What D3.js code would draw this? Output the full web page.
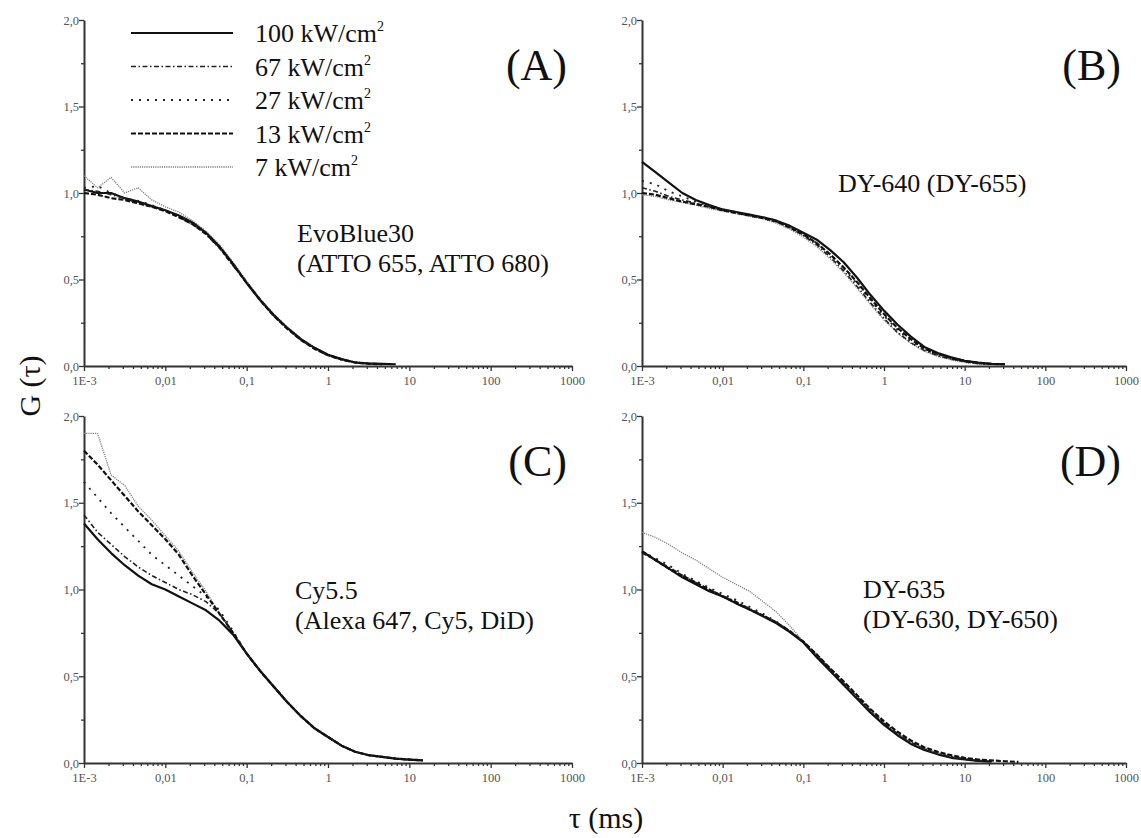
<!DOCTYPE html>
<html>
<head>
<meta charset="utf-8">
<script src="https://cdn.jsdelivr.net/npm/d3@7"></script>
<style>
  body { margin: 0; background: #fff; }
  svg { display: block; }
  svg text { font-family: "Liberation Serif", "DejaVu Serif", serif; }
  .axis path.domain { stroke: #333; stroke-width: 2; }
  .axis line { stroke: #333; stroke-width: 1.3; }
  .axis text { fill: #555; font-size: 12.5px; }
</style>
</head>
<body>
<div id="chart"></div>
<script>
// lag times (ms), shared by every curve
var tauMs = [0.001, 0.001468, 0.002154, 0.003162, 0.004642, 0.006813, 0.01, 0.01468, 0.02154, 0.03162,
  0.04642, 0.06813, 0.1, 0.1468, 0.2154, 0.3162, 0.4642, 0.6813, 1, 1.468, 2.154, 3.162, 4.642, 6.813,
  10, 14.68, 21.54, 31.62, 46.42];

var powerLabels = ["100 kW/cm", "67 kW/cm", "27 kW/cm", "13 kW/cm", "7 kW/cm"];

// (A) EvoBlue30
var A100 = [1.02, 1.00, 1.00, 0.97, 0.95, 0.925, 0.90, 0.87, 0.83, 0.77, 0.69, 0.59, 0.48, 0.38, 0.295, 0.22, 0.155, 0.105, 0.065, 0.04, 0.02, 0.015, 0.012, 0.01];
var A67  = [1.02, 1.01, 0.99, 0.97, 0.94, 0.92, 0.90, 0.86, 0.82, 0.76, 0.68, 0.58, 0.48, 0.38, 0.29, 0.215, 0.15, 0.10, 0.06, 0.035, 0.02, 0.012, 0.01];
var A27  = [1.03, 1.04, 1.00, 0.97, 0.955, 0.93, 0.90, 0.87, 0.83, 0.77, 0.69, 0.59, 0.485, 0.385, 0.295, 0.22, 0.155, 0.105, 0.065, 0.04, 0.022, 0.014, 0.01];
var A13  = [1.00, 0.99, 0.97, 0.96, 0.94, 0.92, 0.895, 0.86, 0.82, 0.765, 0.685, 0.585, 0.48, 0.38, 0.29, 0.215, 0.15, 0.10, 0.062, 0.038, 0.02, 0.013, 0.01];
var A7   = [1.10, 1.03, 1.09, 1.00, 1.03, 0.96, 0.92, 0.89, 0.84, 0.78, 0.70, 0.60, 0.49, 0.39, 0.30, 0.225, 0.16, 0.11, 0.068, 0.042, 0.022, 0.015, 0.01];

// (B) DY-640
var B100 = [1.18, 1.12, 1.06, 1.00, 0.96, 0.93, 0.905, 0.89, 0.875, 0.86, 0.84, 0.81, 0.77, 0.73, 0.67, 0.60, 0.51, 0.41, 0.32, 0.24, 0.17, 0.11, 0.075, 0.05, 0.03, 0.02, 0.012, 0.01];
var B67  = [1.03, 1.01, 0.98, 0.96, 0.94, 0.92, 0.90, 0.885, 0.87, 0.855, 0.835, 0.80, 0.755, 0.70, 0.63, 0.55, 0.46, 0.365, 0.275, 0.195, 0.135, 0.09, 0.06, 0.04, 0.025, 0.015, 0.01];
var B27  = [1.07, 1.05, 1.01, 0.98, 0.95, 0.925, 0.905, 0.89, 0.875, 0.86, 0.84, 0.805, 0.76, 0.71, 0.645, 0.565, 0.475, 0.38, 0.29, 0.21, 0.145, 0.095, 0.065, 0.04, 0.025, 0.015, 0.01];
var B13  = [1.00, 0.99, 0.97, 0.95, 0.935, 0.92, 0.90, 0.885, 0.87, 0.855, 0.835, 0.80, 0.76, 0.71, 0.645, 0.57, 0.485, 0.39, 0.30, 0.22, 0.155, 0.10, 0.07, 0.045, 0.03, 0.018, 0.012, 0.01];
var B7   = [0.99, 0.98, 0.96, 0.945, 0.93, 0.91, 0.895, 0.88, 0.865, 0.85, 0.825, 0.79, 0.745, 0.69, 0.62, 0.54, 0.45, 0.355, 0.265, 0.19, 0.13, 0.085, 0.055, 0.035, 0.02, 0.012, 0.008];

// (C) Cy5.5
var C100 = [1.38, 1.29, 1.21, 1.14, 1.08, 1.03, 1.00, 0.96, 0.92, 0.88, 0.82, 0.74, 0.63, 0.53, 0.44, 0.35, 0.27, 0.20, 0.15, 0.10, 0.065, 0.045, 0.035, 0.025, 0.02, 0.015];
var C67  = [1.43, 1.33, 1.26, 1.19, 1.13, 1.08, 1.04, 1.00, 0.97, 0.93, 0.86, 0.75, 0.63, 0.53, 0.44, 0.35, 0.27, 0.20, 0.15, 0.10, 0.065, 0.045, 0.035, 0.025, 0.018];
var C27  = [1.62, 1.53, 1.44, 1.36, 1.28, 1.20, 1.14, 1.08, 1.02, 0.96, 0.88, 0.76, 0.63, 0.53, 0.44, 0.35, 0.27, 0.20, 0.15, 0.10, 0.066, 0.046, 0.035, 0.025, 0.02, 0.012];
var C13  = [1.80, 1.72, 1.63, 1.54, 1.45, 1.37, 1.29, 1.20, 1.08, 0.97, 0.86, 0.75, 0.63, 0.53, 0.44, 0.35, 0.27, 0.20, 0.15, 0.10, 0.065, 0.045, 0.035, 0.025, 0.02, 0.015];
var C7   = [1.90, 1.90, 1.66, 1.60, 1.48, 1.40, 1.31, 1.22, 1.10, 0.99, 0.86, 0.755, 0.635, 0.535, 0.445, 0.355, 0.275, 0.205, 0.15, 0.10, 0.066, 0.046, 0.035, 0.025, 0.02, 0.015];

// (D) DY-635
var D100 = [1.22, 1.17, 1.12, 1.07, 1.03, 0.99, 0.96, 0.92, 0.885, 0.845, 0.805, 0.755, 0.695, 0.61, 0.53, 0.45, 0.37, 0.29, 0.22, 0.16, 0.11, 0.075, 0.05, 0.03, 0.02, 0.012, 0.008];
var D67  = [1.21, 1.17, 1.13, 1.08, 1.04, 1.00, 0.965, 0.93, 0.89, 0.85, 0.81, 0.76, 0.70, 0.62, 0.54, 0.46, 0.38, 0.30, 0.23, 0.17, 0.12, 0.08, 0.055, 0.035, 0.025, 0.015, 0.01];
var D27  = [1.22, 1.18, 1.14, 1.09, 1.05, 1.01, 0.975, 0.94, 0.90, 0.86, 0.815, 0.76, 0.70, 0.62, 0.54, 0.46, 0.38, 0.30, 0.23, 0.165, 0.115, 0.08, 0.055, 0.035, 0.02, 0.012];
var D13  = [1.22, 1.17, 1.12, 1.08, 1.04, 1.00, 0.96, 0.925, 0.885, 0.85, 0.81, 0.76, 0.70, 0.625, 0.545, 0.47, 0.39, 0.31, 0.24, 0.18, 0.13, 0.09, 0.065, 0.045, 0.03, 0.02, 0.015, 0.01, 0.006];
var D7   = [1.33, 1.30, 1.26, 1.21, 1.17, 1.12, 1.07, 1.03, 0.99, 0.93, 0.87, 0.79, 0.70, 0.625, 0.545, 0.465, 0.385, 0.305, 0.235, 0.17, 0.12, 0.085, 0.06, 0.04, 0.025, 0.015, 0.01];

var panelTags = ["(A)", "(B)", "(C)", "(D)"];
var dyeNames = [
  ["EvoBlue30", "(ATTO 655, ATTO 680)"],
  ["DY-640 (DY-655)"],
  ["Cy5.5", "(Alexa 647, Cy5, DiD)"],
  ["DY-635", "(DY-630, DY-650)"]
];

var xMajor = [0.001, 0.01, 0.1, 1, 10, 100, 1000];
var xMajorLabels = ["1E-3", "0,01", "0,1", "1", "10", "100", "1000"];
var yMajor = [0, 0.5, 1, 1.5, 2];
var yMajorLabels = ["0,0", "0,5", "1,0", "1,5", "2,0"];
var yMinor = [0.25, 0.75, 1.25, 1.75];
var minorSteps = [2, 3, 4, 5, 6, 7, 8, 9];

// styles of the five excitation powers (same order as powerLabels)
var lineStyles = [
  { stroke: "#111", width: 2.2, dash: null },
  { stroke: "#222", width: 1.6, dash: "5,2.5,1.5,2.5" },
  { stroke: "#222", width: 1.8, dash: "2,6" },
  { stroke: "#111", width: 2.2, dash: "5,2" },
  { stroke: "#808080", width: 1.3, dash: "1.2,1" }
];

var svgWidth = 1141;
var svgHeight = 838;

// panel boxes: x / y extent of each frame, dye text offset inside it
var layout = [
  { x0: 84, x1: 572, y0: 20, y1: 366, tx: 213, ty: 222 },
  { x0: 642, x1: 1126, y0: 20, y1: 366, tx: 196, ty: 172 },
  { x0: 84, x1: 572, y0: 416, y1: 763, tx: 211, ty: 183 },
  { x0: 642, x1: 1126, y0: 416, y1: 763, tx: 221, ty: 182 }
];

var panelSeries = [
  [A100, A67, A27, A13, A7],
  [B100, B67, B27, B13, B7],
  [C100, C67, C27, C13, C7],
  [D100, D67, D27, D13, D7]
];

var svg = d3.select("#chart")
  .append("svg")
  .attr("width", svgWidth)
  .attr("height", svgHeight);

svg.append("rect").attr("width", svgWidth).attr("height", svgHeight).attr("fill", "#fff");

var xMinor = [];
xMajor.slice(0, -1).forEach(function(d) {
  minorSteps.forEach(function(m) { xMinor.push(d * m); });
});

layout.forEach(function(box, i) {
  var w = box.x1 - box.x0;
  var h = box.y1 - box.y0;
  var g = svg.append("g").attr("transform", `translate(${box.x0}, ${box.y0})`);

  var x = d3.scaleLog().domain([0.001, 1000]).range([0, w]);
  var y = d3.scaleLinear().domain([0, 2]).range([h, 0]);

  // minor ticks first, then the major axes on top
  g.append("g").attr("class", "axis")
    .attr("transform", `translate(0, ${h})`)
    .call(d3.axisBottom(x).tickValues(xMinor).tickSize(3).tickSizeOuter(0).tickFormat(""))
    .select(".domain").remove();
  g.append("g").attr("class", "axis")
    .call(d3.axisLeft(y).tickValues(yMinor).tickSize(3).tickSizeOuter(0).tickFormat(""))
    .select(".domain").remove();

  g.append("g").attr("class", "axis")
    .attr("transform", `translate(0, ${h})`)
    .call(d3.axisBottom(x).tickValues(xMajor).tickSize(5).tickSizeOuter(0)
      .tickFormat(function(d, j) { return xMajorLabels[j]; }))
    .selectAll("text").attr("dy", "0.9em");
  g.append("g").attr("class", "axis")
    .call(d3.axisLeft(y).tickValues(yMajor).tickSize(5).tickSizeOuter(0)
      .tickFormat(function(d, j) { return yMajorLabels[j]; }))
    .selectAll("text").attr("x", -5);

  var line = d3.line()
    .x(function(d) { return x(d[0]); })
    .y(function(d) { return y(d[1]); });

  // grey 7 kW curve at the back
  [4, 0, 1, 2, 3].forEach(function(k) {
    var vals = panelSeries[i][k];
    var pts = vals.map(function(v, j) { return [tauMs[j], v]; });
    var st = lineStyles[k];
    g.append("path")
      .datum(pts)
      .attr("d", line)
      .attr("fill", "none")
      .attr("stroke", st.stroke)
      .attr("stroke-width", st.width)
      .attr("stroke-dasharray", st.dash)
      .attr("stroke-linejoin", "round");
  });

  // panel tag
  g.append("text")
    .attr("x", w - 5)
    .attr("y", 60)
    .attr("text-anchor", "end")
    .attr("font-size", "44px")
    .attr("fill", "#111")
    .text(panelTags[i]);

  // dye name
  var dt = g.append("text")
    .attr("x", box.tx)
    .attr("y", box.ty)
    .attr("font-size", "26px")
    .attr("fill", "#111");
  dyeNames[i].forEach(function(s, j) {
    dt.append("tspan").attr("x", box.tx).attr("dy", j === 0 ? 0 : 30).text(s);
  });

  // legend only in panel A
  if (i === 0) {
    powerLabels.forEach(function(lbl, k) {
      var ly = 13 + k * 33.5;
      var st = lineStyles[k];
      g.append("line")
        .attr("x1", 47).attr("x2", 149)
        .attr("y1", ly).attr("y2", ly)
        .attr("stroke", st.stroke)
        .attr("stroke-width", st.width)
        .attr("stroke-dasharray", st.dash);
      var t = g.append("text")
        .attr("x", 171)
        .attr("y", ly + 9)
        .attr("font-size", "26px")
        .attr("fill", "#111")
        .text(lbl);
      t.append("tspan").attr("font-size", "14px").attr("dy", -11).text("2");
    });
  }
});

// axis titles
svg.append("text")
  .attr("transform", "translate(40, 386) rotate(-90)")
  .attr("text-anchor", "middle")
  .attr("font-size", "30px")
  .attr("fill", "#111")
  .text("G (τ)");

svg.append("text")
  .attr("x", 606)
  .attr("y", 828)
  .attr("text-anchor", "middle")
  .attr("font-size", "30px")
  .attr("fill", "#111")
  .text("τ (ms)");
</script>
</body>
</html>
